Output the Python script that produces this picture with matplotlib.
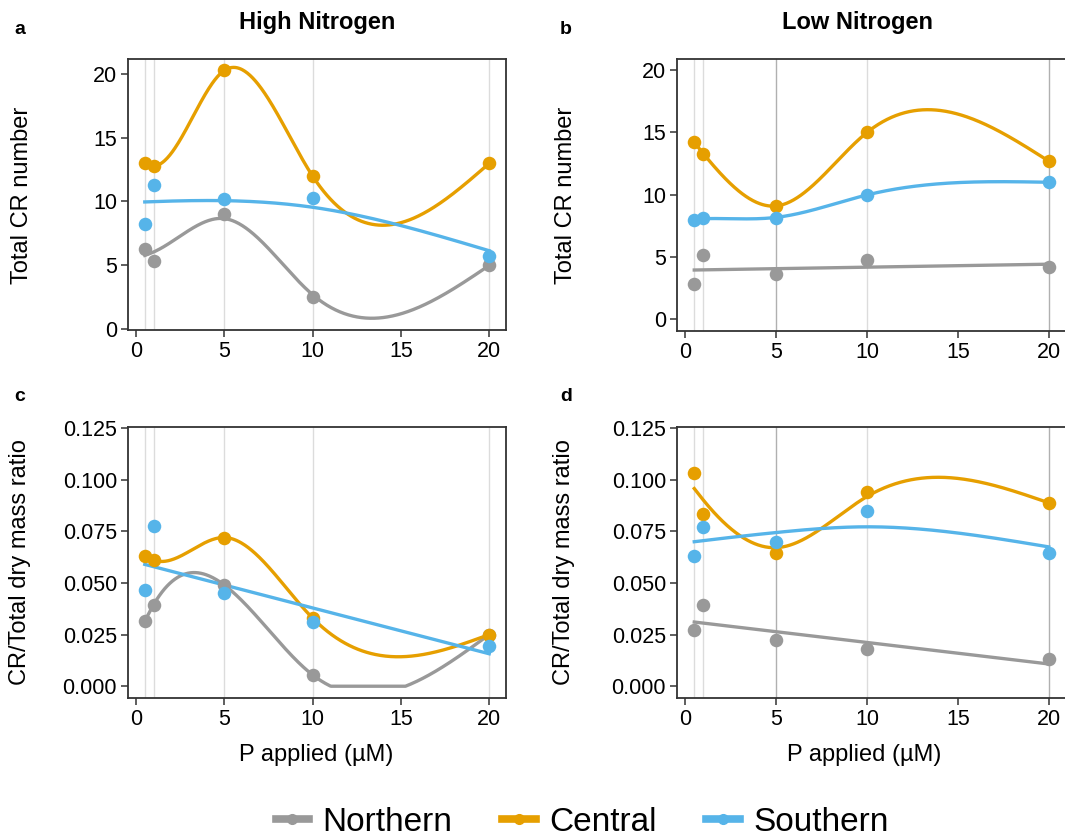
import matplotlib
matplotlib.use('Agg')
import matplotlib.pyplot as plt
import numpy as np
from matplotlib.lines import Line2D

plt.rcParams['font.family'] = ['Liberation Sans', 'DejaVu Sans']

# P applied (uM)
p_applied = [0.5, 1, 5, 10, 20]
regions = ['Northern', 'Central', 'Southern']

# a: High N, total CR number
high_n_count = {
    'Northern': [6.3, 5.3, 9.0, 2.5, 5.0],
    'Central': [13.0, 12.8, 20.3, 12.0, 13.0],
    'Southern': [8.2, 11.3, 10.2, 10.3, 5.7],
}
# b: Low N, total CR number
low_n_count = {
    'Northern': [2.8, 5.2, 3.6, 4.8, 4.2],
    'Central': [14.2, 13.3, 9.1, 15.0, 12.7],
    'Southern': [8.0, 8.15, 8.15, 10.0, 11.0],
}
# c: High N, CR / total dry mass
high_n_ratio = {
    'Northern': [0.0315, 0.0395, 0.049, 0.0055, 0.025],
    'Central': [0.063, 0.061, 0.072, 0.033, 0.025],
    'Southern': [0.0465, 0.0775, 0.045, 0.031, 0.0195],
}
# d: Low N, CR / total dry mass
low_n_ratio = {
    'Northern': [0.027, 0.0395, 0.0225, 0.018, 0.013],
    'Central': [0.103, 0.0835, 0.0645, 0.094, 0.0885],
    'Southern': [0.063, 0.077, 0.070, 0.085, 0.0645],
}

# smoothing parameter of the spline for each series (0 = interpolate, big = straight line)
smooth_lam = {
    'a': {'Northern': 0.6, 'Central': 0.0, 'Southern': 100.0},
    'b': {'Northern': 1e7, 'Central': 0.0, 'Southern': 0.3},
    'c': {'Northern': 0.0, 'Central': 0.0, 'Southern': 1e7},
    'd': {'Northern': 1e7, 'Central': 1.8, 'Southern': 100.0},
}

colors = {'Northern': '#999999', 'Central': '#E69F00', 'Southern': '#56B4E9'}


def smooth_spline(x, y, lam, xs):
    # cubic smoothing spline (Reinsch form), natural ends
    x = np.asarray(x, float)
    y = np.asarray(y, float)
    n = len(x)
    h = np.diff(x)
    Q = np.zeros((n, n - 2))
    R = np.zeros((n - 2, n - 2))
    for j in range(1, n - 1):
        Q[j - 1, j - 1] = 1 / h[j - 1]
        Q[j, j - 1] = -1 / h[j - 1] - 1 / h[j]
        Q[j + 1, j - 1] = 1 / h[j]
        R[j - 1, j - 1] = (h[j - 1] + h[j]) / 3
        if j < n - 2:
            R[j - 1, j] = R[j, j - 1] = h[j] / 6
    K = Q @ np.linalg.solve(R, Q.T)
    g = np.linalg.solve(np.eye(n) + lam * K, y)
    gam = np.concatenate([[0], np.linalg.solve(R, Q.T @ g), [0]])
    i = np.clip(np.searchsorted(x, xs) - 1, 0, n - 2)
    a = xs - x[i]
    b = x[i + 1] - xs
    hi = h[i]
    return (a * g[i + 1] + b * g[i]) / hi - a * b / 6 * (
        (1 + a / hi) * gam[i + 1] + (1 + b / hi) * gam[i])


W, H = 1065, 838
fig = plt.figure(figsize=(W / 100, H / 100), dpi=100)


def box(l, r, t, b):
    return [l / W, 1 - b / H, (r - l) / W, (b - t) / H]


panels = [
    ('a', high_n_count, box(128, 506, 59, 330), (-0.1, 21.2), [0, 5, 10, 15, 20], None),
    ('b', low_n_count, box(677, 1066, 59, 331), (-0.94, 20.9), [0, 5, 10, 15, 20], None),
    ('c', high_n_ratio, box(128, 506, 427, 698), (-0.0057, 0.1255),
     [0, 0.025, 0.05, 0.075, 0.1, 0.125], '%.3f'),
    ('d', low_n_ratio, box(677, 1066, 427, 698), (-0.0057, 0.1255),
     [0, 0.025, 0.05, 0.075, 0.1, 0.125], '%.3f'),
]

xs = np.linspace(0.5, 20, 400)
for key, data, rect, ylim, yticks, fmt in panels:
    ax = fig.add_axes(rect)
    for xv in p_applied:
        dark = key in ('b', 'd') and xv in (5, 20)
        ax.axvline(xv, color='#b0b0b0' if dark else '#dcdcdc', lw=1.0, zorder=0)
    for reg in regions:
        y = np.array(data[reg])
        ys = np.clip(smooth_spline(p_applied, y, smooth_lam[key][reg], xs), 0, None)
        ax.plot(xs, ys, color=colors[reg], lw=2.4, zorder=2)
        ax.scatter(p_applied, y, s=95, color=colors[reg], zorder=3, linewidths=0)
    ax.set_xlim(-0.45, 20.95)
    ax.set_ylim(*ylim)
    ax.set_xticks([0, 5, 10, 15, 20])
    ax.set_yticks(yticks)
    if fmt:
        ax.set_yticklabels([fmt % v for v in yticks])
    ax.tick_params(labelsize=15.5, length=5, width=1.1, color='#333333', pad=3)
    for s in ax.spines.values():
        s.set_color('#333333')
        s.set_linewidth(1.3)

# panel letters and titles
for letter, (px, py) in zip('abcd', [(20, 30), (566, 30), (20, 396), (566, 396)]):
    fig.text(px / W, 1 - py / H, letter, fontsize=14, fontweight='bold', ha='center', va='center')
fig.text(317 / W, 1 - 22 / H, 'High Nitrogen', fontsize=17, fontweight='bold', ha='center', va='center')
fig.text(858 / W, 1 - 22 / H, 'Low Nitrogen', fontsize=17, fontweight='bold', ha='center', va='center')

# axis labels
for px, py, txt in [(22, 195, 'Total CR number'), (566, 195, 'Total CR number'),
                    (20, 562, 'CR/Total dry mass ratio'), (564, 562, 'CR/Total dry mass ratio')]:
    fig.text(px / W, 1 - py / H, txt, fontsize=17, rotation=90, ha='center', va='center')
for px in (316, 864):
    fig.text(px / W, 1 - 755 / H, 'P applied (\u00b5M)', fontsize=17, ha='center', va='center')

handles = [Line2D([], [], color=colors[r], lw=5.5, marker='o', markersize=7) for r in regions]
fig.legend(handles, regions, loc='center', bbox_to_anchor=(582 / W, 1 - 822 / H),
           ncol=3, frameon=False, fontsize=24, handlelength=1.0, handletextpad=0.4,
           columnspacing=1.5)

fig.savefig('out.png', dpi=100)
